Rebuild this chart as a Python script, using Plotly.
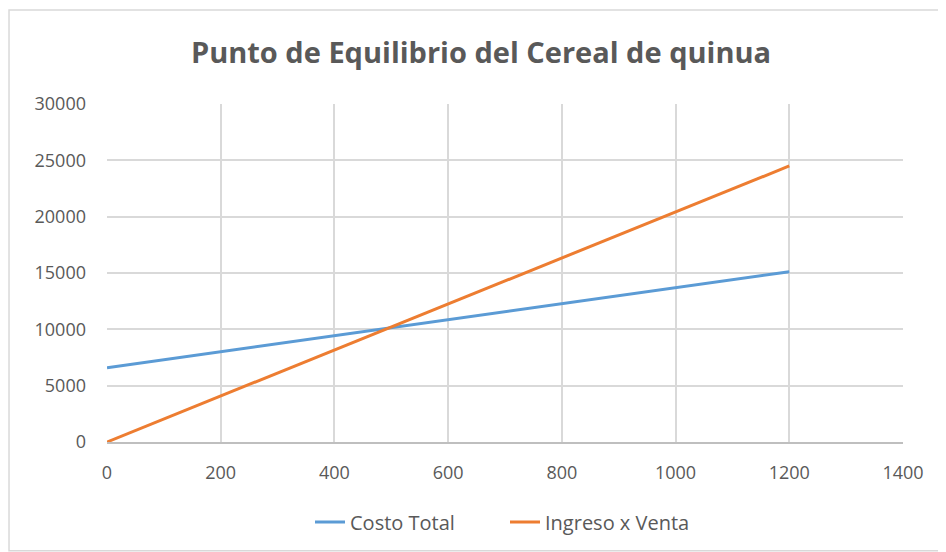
import plotly.graph_objects as go

# data
unidades = [0, 200, 400, 600, 800, 1000, 1200]
costo_total = [6600, 8020, 9440, 10860, 12280, 13700, 15120]
ingreso_venta = [0, 4080, 8170, 12250, 16330, 20420, 24500]

x_ticks = [0, 200, 400, 600, 800, 1000, 1200, 1400]
y_ticks = [0, 5000, 10000, 15000, 20000, 25000, 30000]

fig = go.Figure()
fig.add_trace(go.Scatter(
    x=unidades, y=costo_total, mode="lines", name="Costo Total",
    line=dict(color="#5B9BD5", width=3),
))
fig.add_trace(go.Scatter(
    x=unidades, y=ingreso_venta, mode="lines", name="Ingreso x Venta",
    line=dict(color="#ED7D31", width=3),
))

font_family = "Open Sans, Liberation Sans, sans-serif"

# page body adds ~8px offset, margins compensate for it
fig.update_layout(
    width=946, height=552,
    paper_bgcolor="white", plot_bgcolor="white",
    margin=dict(l=99, r=51, t=96, b=118),
    title=dict(
        text="<b>Punto de Equilibrio del Cereal de quinua</b>",
        x=0.5, xanchor="center", y=0.918, yanchor="middle",
        font=dict(family=font_family, size=29, color="#595959"),
    ),
    font=dict(family=font_family, size=18, color="#595959"),
    legend=dict(
        orientation="h", x=0.5, xanchor="center", y=-0.237, yanchor="middle",
        font=dict(size=20, color="#595959"),
        entrywidth=150,
    ),
    showlegend=True,
)

fig.update_xaxes(
    range=[0, 1400], tickvals=x_ticks, ticktext=[str(v) for v in x_ticks],
    showgrid=True, gridcolor="#d9d9d9", gridwidth=1.5,
    showline=True, linecolor="#bfbfbf", linewidth=1.5,
    zeroline=False, ticks="", ticklabelstandoff=14,
)
fig.update_yaxes(
    range=[0, 30000], tickvals=y_ticks, ticktext=[str(v) for v in y_ticks],
    showgrid=True, gridcolor="#d9d9d9", gridwidth=1.5,
    showline=False, zeroline=False, ticks="", ticklabelstandoff=20,
)

# chart border
fig.add_shape(
    type="rect", xref="paper", yref="paper",
    x0=-0.1231, x1=1.053, y0=-0.322, y1=1.278,
    line=dict(color="#d9d9d9", width=1.5), fillcolor="rgba(0,0,0,0)",
    layer="below",
)

fig.write_html("out.html")
